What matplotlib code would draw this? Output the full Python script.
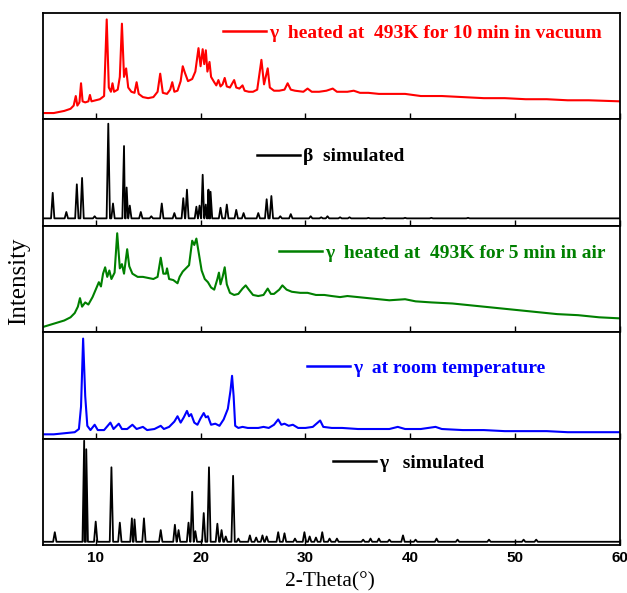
import matplotlib
matplotlib.use("Agg")
import matplotlib.pyplot as plt
import numpy as np

# ---------------------------------------------------------------------------
# Data (intensities are normalised to each panel, 0 = bottom, 1 = top)
# ---------------------------------------------------------------------------
X_MIN, X_MAX = 5, 60
X_TICKS = [10, 20, 30, 40, 50, 60]

# gamma heated at 493 K for 10 min in vacuum (measured)
VAC_THETA = [5.0, 6.0, 7.0, 7.6, 7.9, 8.1, 8.25, 8.45, 8.6, 8.75, 9.0, 9.3, 9.45, 9.6,
             10.0, 10.4, 10.8, 11.05, 11.25, 11.45, 11.6, 11.75, 12.1, 12.3, 12.5, 12.7,
             12.9, 13.1, 13.4, 13.7, 13.9, 14.1, 14.5, 15.0, 15.5, 15.9, 16.15, 16.4,
             16.8, 17.1, 17.3, 17.5, 17.8, 18.1, 18.3, 18.5, 18.8, 19.2, 19.5, 19.8,
             20.0, 20.2, 20.35, 20.5, 20.65, 20.85, 21.0, 21.3, 21.5, 21.7, 21.9, 22.1,
             22.3, 22.5, 22.8, 23.2, 23.4, 23.7, 24.0, 24.2, 24.6, 25.0, 25.4, 25.8,
             26.05, 26.4, 26.6, 27.0, 27.5, 28.0, 28.3, 28.6, 29.0, 29.8, 30.2, 30.6,
             31.3, 32.0, 32.6, 33.0, 34.0, 34.6, 35.2, 36.0, 37.0, 38.0, 39.5, 41.0,
             43.0, 45.0, 47.0, 49.0, 51.0, 53.0, 55.0, 57.0, 60.0]
VAC_I = [0.06, 0.06, 0.08, 0.10, 0.13, 0.22, 0.13, 0.16, 0.34, 0.17, 0.16, 0.17, 0.23, 0.17,
         0.18, 0.19, 0.22, 0.94, 0.30, 0.26, 0.34, 0.26, 0.28, 0.40, 0.90, 0.40,
         0.48, 0.30, 0.26, 0.25, 0.35, 0.24, 0.21, 0.20, 0.21, 0.26, 0.43, 0.25,
         0.24, 0.28, 0.35, 0.26, 0.27, 0.36, 0.50, 0.44, 0.36, 0.38, 0.45, 0.67,
         0.50, 0.66, 0.52, 0.65, 0.45, 0.54, 0.40, 0.35, 0.32, 0.37, 0.31, 0.33,
         0.39, 0.31, 0.30, 0.37, 0.30, 0.29, 0.32, 0.27, 0.26, 0.26, 0.28, 0.56,
         0.33, 0.48, 0.30, 0.27, 0.27, 0.28, 0.34, 0.28, 0.27, 0.26, 0.29, 0.26,
         0.26, 0.27, 0.29, 0.26, 0.26, 0.27, 0.25, 0.25, 0.24, 0.24, 0.24, 0.22,
         0.22, 0.21, 0.20, 0.20, 0.19, 0.19, 0.18, 0.18, 0.17]

# beta simulated (peak positions / heights)
BETA_POS = [5.9, 7.2, 8.2, 8.7, 9.9, 11.2, 11.65, 12.7, 12.95, 13.25, 14.3, 15.3, 16.3,
            17.5, 18.35, 18.7, 19.6, 19.9, 20.2, 20.5, 20.75, 20.95, 21.9, 22.5, 23.4,
            24.1, 25.5, 26.3, 26.75, 27.6, 28.6, 30.5, 31.5, 32.1, 33.3, 34.2, 36.0,
            37.5, 39.5, 42.0, 45.5]
BETA_H = [0.31, 0.13, 0.39, 0.45, 0.09, 0.96, 0.21, 0.75, 0.36, 0.19, 0.13, 0.09, 0.21,
          0.12, 0.26, 0.34, 0.18, 0.19, 0.48, 0.20, 0.34, 0.32, 0.17, 0.20, 0.15,
          0.12, 0.12, 0.25, 0.28, 0.09, 0.11, 0.09, 0.08, 0.09, 0.08, 0.08, 0.075,
          0.075, 0.075, 0.075, 0.075]
BETA_BASE = 0.07

# gamma heated at 493 K for 5 min in air (measured)
AIR_THETA = [5.0, 6.0, 7.0, 7.6, 8.0, 8.3, 8.5, 8.7, 9.0, 9.3, 9.7, 10.0, 10.3, 10.5,
             10.7, 10.9, 11.1, 11.3, 11.5, 11.8, 12.05, 12.3, 12.5, 12.7, 13.0, 13.2,
             13.5, 14.0, 14.5, 15.0, 15.5, 15.9, 16.2, 16.45, 16.7, 16.8, 17.0, 17.4,
             17.8, 18.0, 18.3, 18.6, 18.9, 19.2, 19.4, 19.6, 19.9, 20.1, 20.4, 20.7,
             21.0, 21.3, 21.6, 21.75, 21.9, 22.1, 22.3, 22.5, 22.8, 23.2, 23.6, 24.0,
             24.3, 24.6, 25.0, 25.5, 26.0, 26.4, 26.7, 27.0, 27.5, 27.8, 28.2, 28.7,
             29.5, 30.2, 31.0, 31.8, 32.5, 33.3, 34.0, 35.0, 36.0, 37.0, 38.0, 39.5,
             40.5, 42.0, 44.0, 46.0, 48.0, 50.0, 52.0, 54.0, 56.0, 58.0, 60.0]
AIR_I = [0.05, 0.08, 0.11, 0.14, 0.18, 0.24, 0.32, 0.24, 0.28, 0.26, 0.33, 0.40, 0.47, 0.43,
         0.55, 0.61, 0.52, 0.58, 0.50, 0.56, 0.93, 0.60, 0.64, 0.55, 0.78, 0.62,
         0.55, 0.52, 0.52, 0.51, 0.50, 0.52, 0.70, 0.55, 0.55, 0.60, 0.50, 0.49,
         0.46, 0.52, 0.57, 0.60, 0.63, 0.86, 0.82, 0.88, 0.70, 0.58, 0.50, 0.47,
         0.42, 0.40, 0.50, 0.56, 0.45, 0.52, 0.61, 0.45, 0.37, 0.35, 0.36, 0.41,
         0.44, 0.40, 0.35, 0.34, 0.35, 0.41, 0.36, 0.36, 0.40, 0.44, 0.40, 0.38,
         0.37, 0.37, 0.35, 0.35, 0.34, 0.33, 0.34, 0.33, 0.32, 0.31, 0.30, 0.31,
         0.29, 0.28, 0.27, 0.25, 0.23, 0.21, 0.19, 0.17, 0.16, 0.14, 0.13]

# gamma at room temperature (measured)
RT_THETA = [5.0, 6.0, 7.0, 8.0, 8.4, 8.6, 8.8, 9.0, 9.2, 9.5, 9.9, 10.2, 10.8, 11.4,
            11.7, 12.2, 12.5, 13.0, 13.5, 13.9, 14.5, 14.9, 15.6, 16.2, 16.5, 17.0,
            17.5, 17.8, 18.1, 18.4, 18.7, 18.9, 19.1, 19.4, 19.7, 20.0, 20.3, 20.5,
            20.7, 21.0, 21.4, 21.8, 22.2, 22.6, 22.85, 23.0, 23.15, 23.3, 23.6, 24.0,
            24.5, 25.0, 25.5, 26.0, 26.5, 27.0, 27.4, 27.7, 28.0, 28.4, 28.8, 29.3,
            30.0, 30.7, 31.4, 31.7, 32.5, 33.5, 35.0, 36.5, 38.0, 38.8, 39.5, 41.0,
            42.4, 43.0, 45.0, 47.0, 49.0, 51.0, 53.0, 55.0, 57.0, 60.0]
RT_I = [0.04, 0.04, 0.05, 0.06, 0.09, 0.30, 0.94, 0.40, 0.12, 0.08, 0.13, 0.08, 0.08, 0.15,
        0.09, 0.14, 0.09, 0.09, 0.13, 0.09, 0.11, 0.08, 0.09, 0.12, 0.09, 0.11,
        0.16, 0.21, 0.15, 0.20, 0.26, 0.21, 0.23, 0.15, 0.13, 0.19, 0.24, 0.20,
        0.21, 0.13, 0.14, 0.12, 0.18, 0.28, 0.45, 0.59, 0.40, 0.12, 0.10, 0.11,
        0.10, 0.10, 0.10, 0.11, 0.10, 0.13, 0.18, 0.13, 0.14, 0.12, 0.13, 0.10,
        0.10, 0.11, 0.17, 0.11, 0.10, 0.10, 0.09, 0.09, 0.09, 0.11, 0.09, 0.09,
        0.11, 0.09, 0.08, 0.08, 0.07, 0.07, 0.07, 0.06, 0.06, 0.06]

# gamma simulated (peak positions / heights)
GAM_POS = [6.1, 8.9, 9.1, 10.0, 11.5, 12.3, 13.45, 13.7, 14.6, 16.2, 17.55, 17.9, 18.85,
           19.2, 19.5, 20.3, 20.8, 21.6, 22.0, 22.4, 23.1, 23.6, 24.7, 25.3, 25.9,
           26.3, 27.4, 28.0, 29.0, 29.9, 30.4, 31.0, 31.6, 32.3, 33.0, 35.5, 36.2,
           37.0, 38.0, 39.3, 40.5, 42.5, 44.5, 47.5, 50.8, 52.0]
GAM_H = [0.12, 0.98, 0.90, 0.22, 0.73, 0.21, 0.25, 0.24, 0.25, 0.14, 0.19, 0.14, 0.21,
         0.50, 0.13, 0.30, 0.73, 0.20, 0.14, 0.08, 0.65, 0.06, 0.09, 0.07, 0.09,
         0.08, 0.12, 0.11, 0.06, 0.12, 0.08, 0.07, 0.12, 0.06, 0.06, 0.05, 0.06,
         0.06, 0.05, 0.09, 0.05, 0.06, 0.05, 0.05, 0.05, 0.05]
GAM_BASE = 0.03


def stick_profile(pos, height, base, half_width=0.16):
    """Turn a simulated peak list into a polyline (foot - apex - foot)."""
    pts = [(X_MIN, base), (X_MAX, base)]
    for p, h in zip(pos, height):
        pts += [(p - half_width, base), (p, h), (p + half_width, base)]
    pts.sort()
    x, y = zip(*pts)
    return np.array(x), np.array(y)


beta_x, beta_y = stick_profile(BETA_POS, BETA_H, BETA_BASE)
gam_x, gam_y = stick_profile(GAM_POS, GAM_H, GAM_BASE)

# (x, y, colour, label, legend anchor in axes coords, line width)
panels = [
    (VAC_THETA, VAC_I, "#ff0000", "\u03b3  heated at  493K for 10 min in vacuum", (0.312, 0.81), 1.5),
    (beta_x, beta_y, "black", "\u03b2  simulated", (0.371, 0.65), 1.3),
    (AIR_THETA, AIR_I, "#008000", "\u03b3  heated at  493K for 5 min in air", (0.409, 0.74), 1.5),
    (RT_THETA, RT_I, "#0000ff", "\u03b3  at room temperature", (0.458, 0.66), 1.5),
    (gam_x, gam_y, "black", "\u03b3   simulated", (0.503, 0.77), 1.3),
]

# ---------------------------------------------------------------------------
# Figure
# ---------------------------------------------------------------------------
fig = plt.figure(figsize=(6.27, 5.93), dpi=100)
axes = fig.subplots(5, 1, sharex=True)
fig.subplots_adjust(left=0.069, right=0.989, top=0.978, bottom=0.081, hspace=0)

for ax, (x, y, color, label, anchor, lw) in zip(axes, panels):
    ax.plot(x, y, color=color, linewidth=lw, label=label)
    ax.set_xlim(X_MIN, X_MAX)
    ax.set_ylim(0, 1)
    ax.set_yticks([])
    ax.set_xticks(X_TICKS)
    ax.tick_params(axis="x", direction="in", length=4, width=1.0, labelbottom=False)
    for sp in ax.spines.values():
        sp.set_linewidth(1.3)
    leg = ax.legend(loc="center left", bbox_to_anchor=anchor, frameon=False,
                    borderpad=0, borderaxespad=0, handlelength=2.2, handletextpad=0.15,
                    prop={"family": "Liberation Serif", "weight": "bold", "size": 14})
    for txt in leg.get_texts():
        txt.set_color(color)
    for h in leg.get_lines():
        h.set_linewidth(1.8)

bottom = axes[-1]
bottom.tick_params(axis="x", labelbottom=True, pad=4)
for lab in bottom.get_xticklabels():
    lab.set_fontfamily("Liberation Sans")
    lab.set_fontweight("bold")
    lab.set_fontsize(11)

fig.text(0.527, 0.003, "2-Theta(\u00b0)", ha="center", va="bottom",
         family="Liberation Serif", fontsize=15.5)
fig.text(0.03, 0.525, "Intensity", ha="center", va="center", rotation=90,
         family="Liberation Serif", fontsize=18)

fig.savefig("out.png", dpi=100)
